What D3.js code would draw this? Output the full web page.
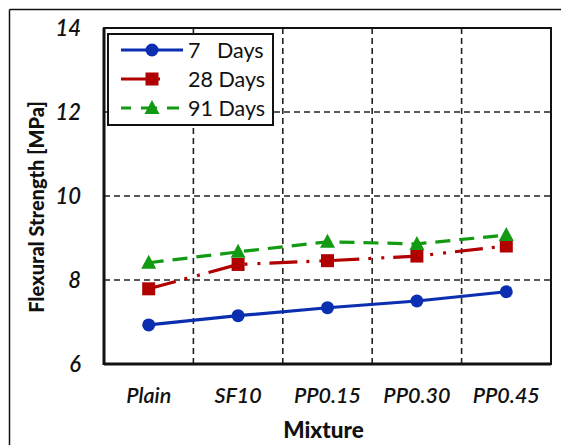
<!DOCTYPE html>
<html><head><meta charset="utf-8">
<script src="https://cdn.jsdelivr.net/npm/d3@7"></script>
<style>
html,body{margin:0;padding:0;background:#fff;}
svg{display:block;}
text{font-family:Lato,"Open Sans",sans-serif;fill:#111;}
</style></head>
<body>
<svg id="c" width="561" height="445"></svg>
<script>
const categories = ["Plain","SF10","PP0.15","PP0.30","PP0.45"];
const days7  = [6.93, 7.15, 7.34, 7.50, 7.72];
const days28 = [7.79, 8.37, 8.46, 8.57, 8.81];
const days91 = [8.41, 8.67, 8.91, 8.86, 9.07];
const seriesNames = ["7   Days","28 Days","91 Days"];
const yTicks = [6, 8, 10, 12, 14];

const series = [
  {name: seriesNames[0], values: days7,  color: "#0b2fb0", dash: null, marker: "circle"},
  {name: seriesNames[1], values: days28, color: "#b00000", dash: "28,9,3,10,3,9", marker: "square"},
  {name: seriesNames[2], values: days91, color: "#129a12", dash: "15,9", marker: "triangle"}
];

const svg = d3.select("#c");
svg.append("line").attr("x1",9.5).attr("x2",9.5).attr("y1",9.5).attr("y2",445).attr("stroke","#111").attr("stroke-width",1.5);
svg.append("line").attr("x1",9.5).attr("x2",561).attr("y1",9.5).attr("y2",9.5).attr("stroke","#111").attr("stroke-width",1.5);

const L = 104, R = 551, T = 28, B = 364;
const x = d3.scaleBand().domain(categories).range([L, R]);
const y = d3.scaleLinear().domain([6, 14]).range([B, T]);

const grid = svg.append("g");
grid.selectAll("line.h").data(yTicks.slice(1)).join("line")
  .attr("x1", L).attr("x2", R).attr("y1", d => y(d)).attr("y2", d => y(d))
  .attr("stroke", "#222").attr("stroke-width", 1.6).attr("stroke-dasharray", "6,4");
grid.selectAll("line.v").data(categories.slice(1)).join("line")
  .attr("x1", d => x(d)).attr("x2", d => x(d)).attr("y1", T).attr("y2", B)
  .attr("stroke", "#222").attr("stroke-width", 1.6).attr("stroke-dasharray", "6,4");

svg.append("rect").attr("x", L).attr("y", T).attr("width", R - L).attr("height", B - T)
  .attr("fill", "none").attr("stroke", "#111").attr("stroke-width", 2);
svg.append("line").attr("x1", L).attr("x2", L).attr("y1", T).attr("y2", B + 1).attr("stroke", "#111").attr("stroke-width", 3);
svg.append("line").attr("x1", L).attr("x2", R).attr("y1", B).attr("y2", B).attr("stroke", "#111").attr("stroke-width", 3);

const yAxis = d3.axisLeft(y).tickValues(yTicks).tickSize(0).tickPadding(23).tickFormat(d3.format("d"));
const ga = svg.append("g").attr("transform", `translate(${L},0)`).call(yAxis);
ga.select(".domain").remove();
ga.selectAll("text").attr("font-size", 22).attr("font-style", "italic").attr("font-weight", 600).attr("font-family", "Lato, sans-serif").attr("fill","#111");

const xAxis = d3.axisBottom(x).tickSize(0).tickPadding(24);
const gx = svg.append("g").attr("transform", `translate(0,${B})`).call(xAxis);
gx.select(".domain").remove();
gx.selectAll("text").attr("font-size", 21.5).attr("font-style", "italic").attr("font-weight", 600).attr("font-family", "Lato, sans-serif").attr("fill","#111");

svg.append("text").attr("x", (L + R) / 2 - 4).attr("y", 438).attr("text-anchor", "middle")
  .attr("font-size", 22.5).attr("font-weight", 900).text("Mixture");
svg.append("text").attr("transform", "translate(44,207) rotate(-90)").attr("text-anchor", "middle")
  .attr("font-size", 20).attr("font-weight", 900).text("Flexural Strength [MPa]");

const line = d3.line().x((d, i) => x(categories[i]) + x.bandwidth() / 2).y(d => y(d));

function drawMarker(g, type, cx, cy, color) {
  if (type === "circle") g.append("circle").attr("cx", cx).attr("cy", cy).attr("r", 6.5).attr("fill", color);
  else if (type === "square") g.append("rect").attr("x", cx - 6.5).attr("y", cy - 6.5).attr("width", 13).attr("height", 13).attr("fill", color);
  else g.append("path").attr("d", `M${cx},${cy - 8}L${cx + 7.5},${cy + 6}L${cx - 7.5},${cy + 6}Z`).attr("fill", color);
}

series.forEach(s => {
  const g = svg.append("g");
  g.append("path").attr("d", line(s.values)).attr("fill", "none").attr("stroke", s.color)
    .attr("stroke-width", 3.2).attr("stroke-dasharray", s.dash);
  s.values.forEach((v, i) => drawMarker(g, s.marker, x(categories[i]) + x.bandwidth() / 2, y(v), s.color));
});

const lg = svg.append("g");
lg.append("rect").attr("x", 108).attr("y", 34).attr("width", 165).attr("height", 91)
  .attr("fill", "#fff").attr("stroke", "#111").attr("stroke-width", 2);
const rowY = [50, 79, 108];
series.forEach((s, i) => {
  lg.append("line").attr("x1", 121).attr("x2", 183).attr("y1", rowY[i]).attr("y2", rowY[i])
    .attr("stroke", s.color).attr("stroke-width", 3.2)
    .attr("stroke-dasharray", i === 1 ? "30,6,3,200" : (i === 2 ? "10,10,16,10,12,6" : null));
  drawMarker(lg, s.marker, 152, rowY[i], s.color);
  lg.append("text").attr("x", 188).attr("y", rowY[i]).attr("dy", "0.36em")
    .attr("font-size", 21.5).attr("xml:space", "preserve").style("white-space", "pre").text(s.name);
});
</script>
</body></html>
